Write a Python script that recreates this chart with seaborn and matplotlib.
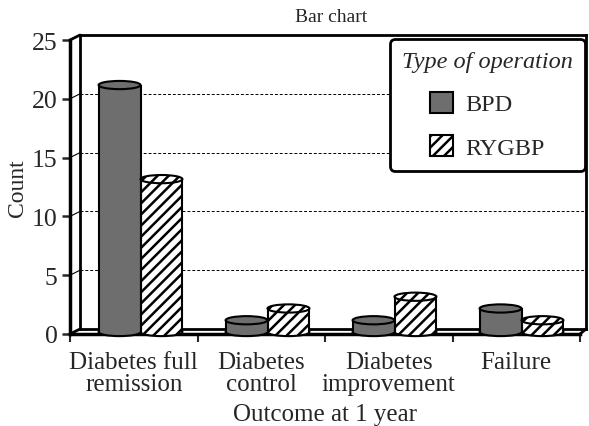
import numpy as np
import pandas as pd
import matplotlib
matplotlib.use("Agg")
import matplotlib.pyplot as plt
import seaborn as sns
from matplotlib.patches import Ellipse, Patch
from matplotlib.lines import Line2D

# ---- data ----
outcomes = ["Diabetes full\nremission", "Diabetes\ncontrol", "Diabetes\nimprovement", "Failure"]
operations = ["BPD", "RYGBP"]
bpd_counts = [21, 1, 1, 2]
rygbp_counts = [13, 2, 3, 1]
y_ticks = [0, 5, 10, 15, 20, 25]

df = pd.DataFrame({
    "Outcome": outcomes * 2,
    "Operation": ["BPD"] * len(outcomes) + ["RYGBP"] * len(outcomes),
    "Count": bpd_counts + rygbp_counts,
})

sns.set_style("white")
plt.rcParams["font.family"] = ["Liberation Serif", "DejaVu Serif"]
plt.rcParams["hatch.linewidth"] = 1.8

FS = 18
GRAY = "#6e6e6e"
W, H = 589, 427
fig = plt.figure(figsize=(W / 100, H / 100), dpi=100)


def box(l, r, b, t):
    return [l / W, 1 - b / H, (r - l) / W, (b - t) / H]


# back wall
ax_back = fig.add_axes(box(80, 586, 330, 36))
ax_back.set_xlim(-0.5, 3.5)
ax_back.set_ylim(0, 25)
ax_back.set_facecolor("white")
for y in y_ticks[1:-1]:
    ax_back.axhline(y, color="black", ls=(0, (3, 2)), lw=0.7)
for s in ax_back.spines.values():
    s.set_visible(True)
    s.set_color("black")
    s.set_linewidth(2)
ax_back.set_xticks([])
ax_back.set_yticks([])

# front axis
ax_front = fig.add_axes(box(70, 580, 335, 41))
ax_front.set_facecolor("none")
ax_front.set_xlim(-0.5, 3.5)
ax_front.set_ylim(0, 25)
ax_front.spines["top"].set_visible(False)
ax_front.spines["right"].set_visible(False)
for s in ("left", "bottom"):
    ax_front.spines[s].set_visible(True)
    ax_front.spines[s].set_color("black")
    ax_front.spines[s].set_linewidth(2.5)
ax_front.set_yticks(y_ticks)
ax_front.set_yticklabels([str(v) for v in y_ticks], fontsize=18.5)
ax_front.tick_params(axis="y", direction="out", length=6, width=1.8, pad=3, left=True)
ax_front.set_xticks(np.arange(-0.5, len(outcomes), 1.0))
ax_front.set_xticklabels([])
ax_front.set_xticks(range(len(outcomes)), minor=True)
ax_front.set_xticklabels(outcomes, minor=True, fontsize=FS, linespacing=1.0)
ax_front.tick_params(axis="x", which="major", direction="out", length=6, width=1.5, bottom=True)
ax_front.tick_params(axis="x", which="minor", length=0, pad=12)
ax_front.set_xlabel("Outcome at 1 year", fontsize=FS, labelpad=6)
ax_front.set_ylabel("Count", fontsize=17, labelpad=3)

# connecting lines between front and back planes
inv = fig.transFigure.inverted()
def link(xf, xb, y, lw):
    p1 = inv.transform(ax_front.transData.transform((xf, y)))
    p2 = inv.transform(ax_back.transData.transform((xb, y)))
    fig.add_artist(Line2D([p1[0], p2[0]], [p1[1], p2[1]], color="black", lw=lw))

for y in y_ticks:
    link(-0.5, -0.5, y, 2.0 if y in (0, 25) else 0.8)
link(3.5, 3.5, 0, 2.0)

# bars
ax_bars = fig.add_axes(box(77, 585, 333, 39))
ax_bars.set_facecolor("none")
sns.barplot(data=df, x="Outcome", y="Count", hue="Operation", order=outcomes,
            hue_order=operations, palette=[GRAY, "white"], width=0.66,
            saturation=1, edgecolor="black", linewidth=0, legend=False, ax=ax_bars)
ax_bars.set_xlim(-0.5, 3.5)
ax_bars.set_ylim(0, 25)
ax_bars.axis("off")

HATCH = "///"
eh = 0.7
for cont, hatch, fc in zip(ax_bars.containers, [None, HATCH], [GRAY, "white"]):
    for rect in cont:
        rect.set_hatch(hatch)
        rect.set_zorder(3)
        x, w, h = rect.get_x(), rect.get_width(), rect.get_height()
        cx = x + w / 2
        ax_bars.add_patch(Ellipse((cx, 0), w, eh, facecolor=fc, edgecolor="black",
                                  hatch=hatch, lw=1.5, zorder=2, clip_on=False))
        ax_bars.plot([x, x], [0, h], color="black", lw=1.5, zorder=3.5, solid_capstyle="butt")
        ax_bars.plot([x + w, x + w], [0, h], color="black", lw=1.5, zorder=3.5, solid_capstyle="butt")
        ax_bars.add_patch(Ellipse((cx, h), w, eh, facecolor=fc, edgecolor="black",
                                  hatch=hatch, lw=1.5, zorder=4, clip_on=False))

# legend
handles = [Patch(facecolor=GRAY, edgecolor="black", lw=1.5),
           Patch(facecolor="white", edgecolor="black", hatch=HATCH, lw=1.5)]
leg = fig.legend(handles, operations, title="Type of operation", loc="upper right",
                 bbox_to_anchor=(585 / W, 1 - 40 / H), fontsize=17.5,
                 title_fontproperties={"style": "italic", "size": 17.5},
                 frameon=True, fancybox=True, edgecolor="black", framealpha=1,
                 handlelength=0.95, handleheight=0.95, handletextpad=0.5,
                 labelspacing=0.8, borderpad=0.5, borderaxespad=0)
leg.get_frame().set_linewidth(2)

fig.text(331 / W, 1 - 18 / H, "Bar chart", ha="center", va="center", fontsize=14)

fig.savefig("out.png", dpi=100)
